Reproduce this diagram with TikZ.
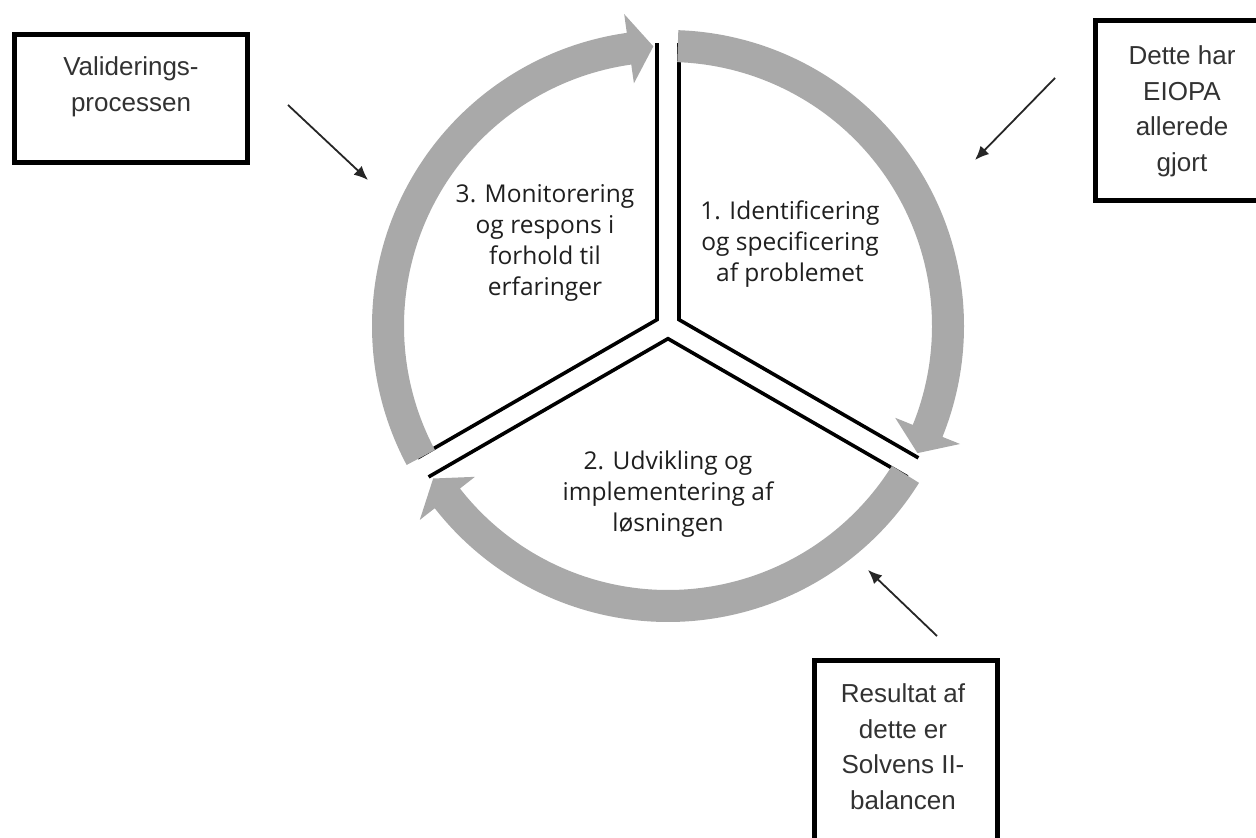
\documentclass[tikz,border=0pt]{standalone}
\usepackage{fontspec}
\setmainfont{Open Sans}
\newfontfamily\boxfont{Liberation Sans}
\usetikzlibrary{calc,arrows.meta}
\definecolor{ringgray}{RGB}{169,169,169}
\definecolor{boxtext}{RGB}{50,50,50}
\begin{document}
\begin{tikzpicture}[x=1pt,y=1pt,
  ring/.style={fill=ringgray},
  divider/.style={line width=3.6pt, black, line join=miter},
  framebox/.style={draw=black, line width=5pt, inner sep=0pt},
  boxlabel/.style={font=\boxfont\fontsize{26}{35.5}\selectfont, text=boxtext, inner sep=0pt, anchor=base},
  cyclelabel/.style={font=\fontsize{24.5}{31}\selectfont, text=black!88, inner sep=0pt, anchor=base},
  pointer/.style={-{Latex[length=14pt,width=12pt]}, line width=1.8pt, black!85}]
\useasboundingbox (0,0) rectangle (1256,838);
\clip (0,0) rectangle (1256,838);
\coordinate (C) at (668,512);
% dividers
\draw[divider] ($(C)+(90:282.8)+(180:11)$) -- ($(C)+(150:12.7)$) -- ($(C)+(210:282.8)+(120:11)$);
\draw[divider] ($(C)+(90:282.8)+(0:11)$) -- ($(C)+(30:12.7)$) -- ($(C)+(-30:282.8)+(60:11)$);
\draw[divider] ($(C)+(-30:282.8)+(-120:11)$) -- ($(C)+(270:12.7)$) -- ($(C)+(210:282.8)+(300:11)$);
% ring arrows
\foreach \s in {88,-32,-152}{
  \pgfmathsetmacro{\e}{\s-110}
  \pgfmathsetmacro{\t}{\s-115}
  \fill[ring] ($(C)+(\s:296)$) arc[start angle=\s, end angle=\e, radius=296pt]
    -- ($(C)+(\e:315)$) -- ($(C)+(\t:280)$) -- ($(C)+(\e:245)$) -- ($(C)+(\e:264)$)
    arc[start angle=\e, end angle=\s, radius=264pt] -- cycle;
}
% cycle labels
\node[cyclelabel] (t1) at (790,618) {\begin{tabular}[t]{@{}c@{}}1. Identificering\\og specificering\\af problemet\end{tabular}};
\node[cyclelabel] (t2) at (668,368) {\begin{tabular}[t]{@{}c@{}}2. Udvikling og\\implementering af\\løsningen\end{tabular}};
\node[cyclelabel] (t3) at (545,635) {\begin{tabular}[t]{@{}c@{}}3. Monitorering\\og respons i\\forhold til\\erfaringer\end{tabular}};
% boxes
\node[framebox, minimum width=233pt, minimum height=128pt] (b1) at (131,739.5) {};
\node[framebox, minimum width=180pt, minimum height=180pt] (b2) at (1185,727.5) {};
\node[framebox, minimum width=183pt, minimum height=200pt] (b3) at (906,77.5) {};
\node[boxlabel] (l1) at (131,762) {\begin{tabular}[t]{@{}c@{}}Validerings-\\processen\end{tabular}};
\node[boxlabel] (l2) at (1182,773) {\begin{tabular}[t]{@{}c@{}}Dette har\\EIOPA\\allerede\\gjort\end{tabular}};
\node[boxlabel] (l3) at (903,135) {\begin{tabular}[t]{@{}c@{}}Resultat af\\dette er\\Solvens II-\\balancen\end{tabular}};
% pointers
\coordinate (pa0) at (288,733); \coordinate (pa1) at (368,658);
\coordinate (pb0) at (1055,760); \coordinate (pb1) at (975,678);
\coordinate (pc0) at (937,202); \coordinate (pc1) at (868,268);
\draw[pointer] (pa0) -- (pa1);
\draw[pointer] (pb0) -- (pb1);
\draw[pointer] (pc0) -- (pc1);
\end{tikzpicture}
\end{document}
